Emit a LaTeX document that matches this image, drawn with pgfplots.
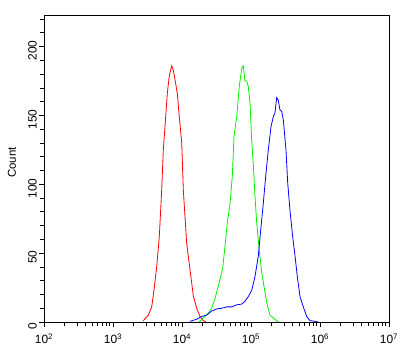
\documentclass[border=0pt]{standalone}
\usepackage{pgfplots}
\pgfplotsset{compat=1.18}
\usepackage{fontspec}
\setmainfont{Liberation Sans}
\pgfplotstableread{
x c
3.439 1
3.512 5
3.561 11
3.594 23
3.633 40
3.671 62
3.706 96
3.729 125
3.758 145
3.787 166
3.816 179
3.851 186
3.874 183
3.899 176
3.932 166
3.961 149
3.996 130
4.019 96
4.068 57
4.116 38
4.164 19
4.213 10
4.261 4
4.309 1
4.348 0
}\red
\pgfplotstableread{
x c
4.250 0
4.309 3
4.381 6.5
4.430 10
4.478 17
4.526 26
4.561 33
4.590 39
4.623 55
4.657 72
4.696 86
4.729 106
4.754 135
4.793 149
4.830 171
4.865 184
4.888 186
4.913 175
4.938 175
4.961 171
4.986 159
5.010 132
5.033 115
5.058 91
5.083 72
5.120 52
5.155 36
5.188 26
5.228 14
5.275 5
5.348 2
5.396 0
}\green
\pgfplotstableread{
x c
4.116 0.5
4.213 2
4.286 4
4.358 5
4.430 8
4.503 9.5
4.575 10
4.648 11
4.720 11
4.793 12.5
4.865 13
4.913 15
4.961 18.5
5.010 23
5.058 33
5.106 48
5.141 67
5.178 86
5.217 108
5.251 125
5.290 142
5.323 149
5.348 152
5.372 163
5.396 161
5.420 154
5.445 153
5.468 147
5.507 125
5.532 101
5.565 81
5.604 62
5.638 48
5.671 33
5.710 18.5
5.758 11
5.807 4
5.855 1
5.928 0.5
5.975 0
}\blue
\begin{document}
\begin{tikzpicture}
\path[use as bounding box] (0,0) rectangle (413bp,357bp);
\begin{axis}[
  at={(44bp,35bp)}, anchor=south west,
  scale only axis, width=345bp, height=307bp,
  xmin=2, xmax=7, ymin=0, ymax=223,
  axis line style={line width=0.8bp},
  tick style={black, line width=0.8bp},
  tick align=outside, major tick length=5bp, minor tick length=3.5bp,
  xtick pos=bottom, ytick pos=left,
  xtick={2,3,4,5,6,7},
  xticklabels={10\textsuperscript{2},10\textsuperscript{3},10\textsuperscript{4},10\textsuperscript{5},10\textsuperscript{6},10\textsuperscript{7}},
  minor xtick={2.30103,2.47712,2.60206,2.69897,2.77815,2.84510,2.90309,2.95424,
               3.30103,3.47712,3.60206,3.69897,3.77815,3.84510,3.90309,3.95424,
               4.30103,4.47712,4.60206,4.69897,4.77815,4.84510,4.90309,4.95424,
               5.30103,5.47712,5.60206,5.69897,5.77815,5.84510,5.90309,5.95424,
               6.30103,6.47712,6.60206,6.69897,6.77815,6.84510,6.90309,6.95424},
  ytick={0,50,100,150,200},
  minor ytick={10,20,30,40,60,70,80,90,110,120,130,140,160,170,180,190,210,220},
  /pgf/number format/assume math mode=true,
  xticklabel style={font=\fontsize{12}{14}\selectfont, yshift=-3bp},
  yticklabel style={font=\fontsize{12}{14}\selectfont, rotate=90, anchor=south, inner sep=2pt, xshift=-4bp},
  ylabel={Count},
  ylabel style={font=\fontsize{11.5}{13}\selectfont, at={(axis description cs:-0.093,0.52)}, anchor=center},
  every axis plot/.append style={line width=0.8bp},
]
\addplot[red, no marks] table[x=x,y=c] {\red};
\addplot[color={rgb,255:red,0;green,240;blue,0}, no marks] table[x=x,y=c] {\green};
\addplot[blue, no marks] table[x=x,y=c] {\blue};
\end{axis}
\end{tikzpicture}
\end{document}
